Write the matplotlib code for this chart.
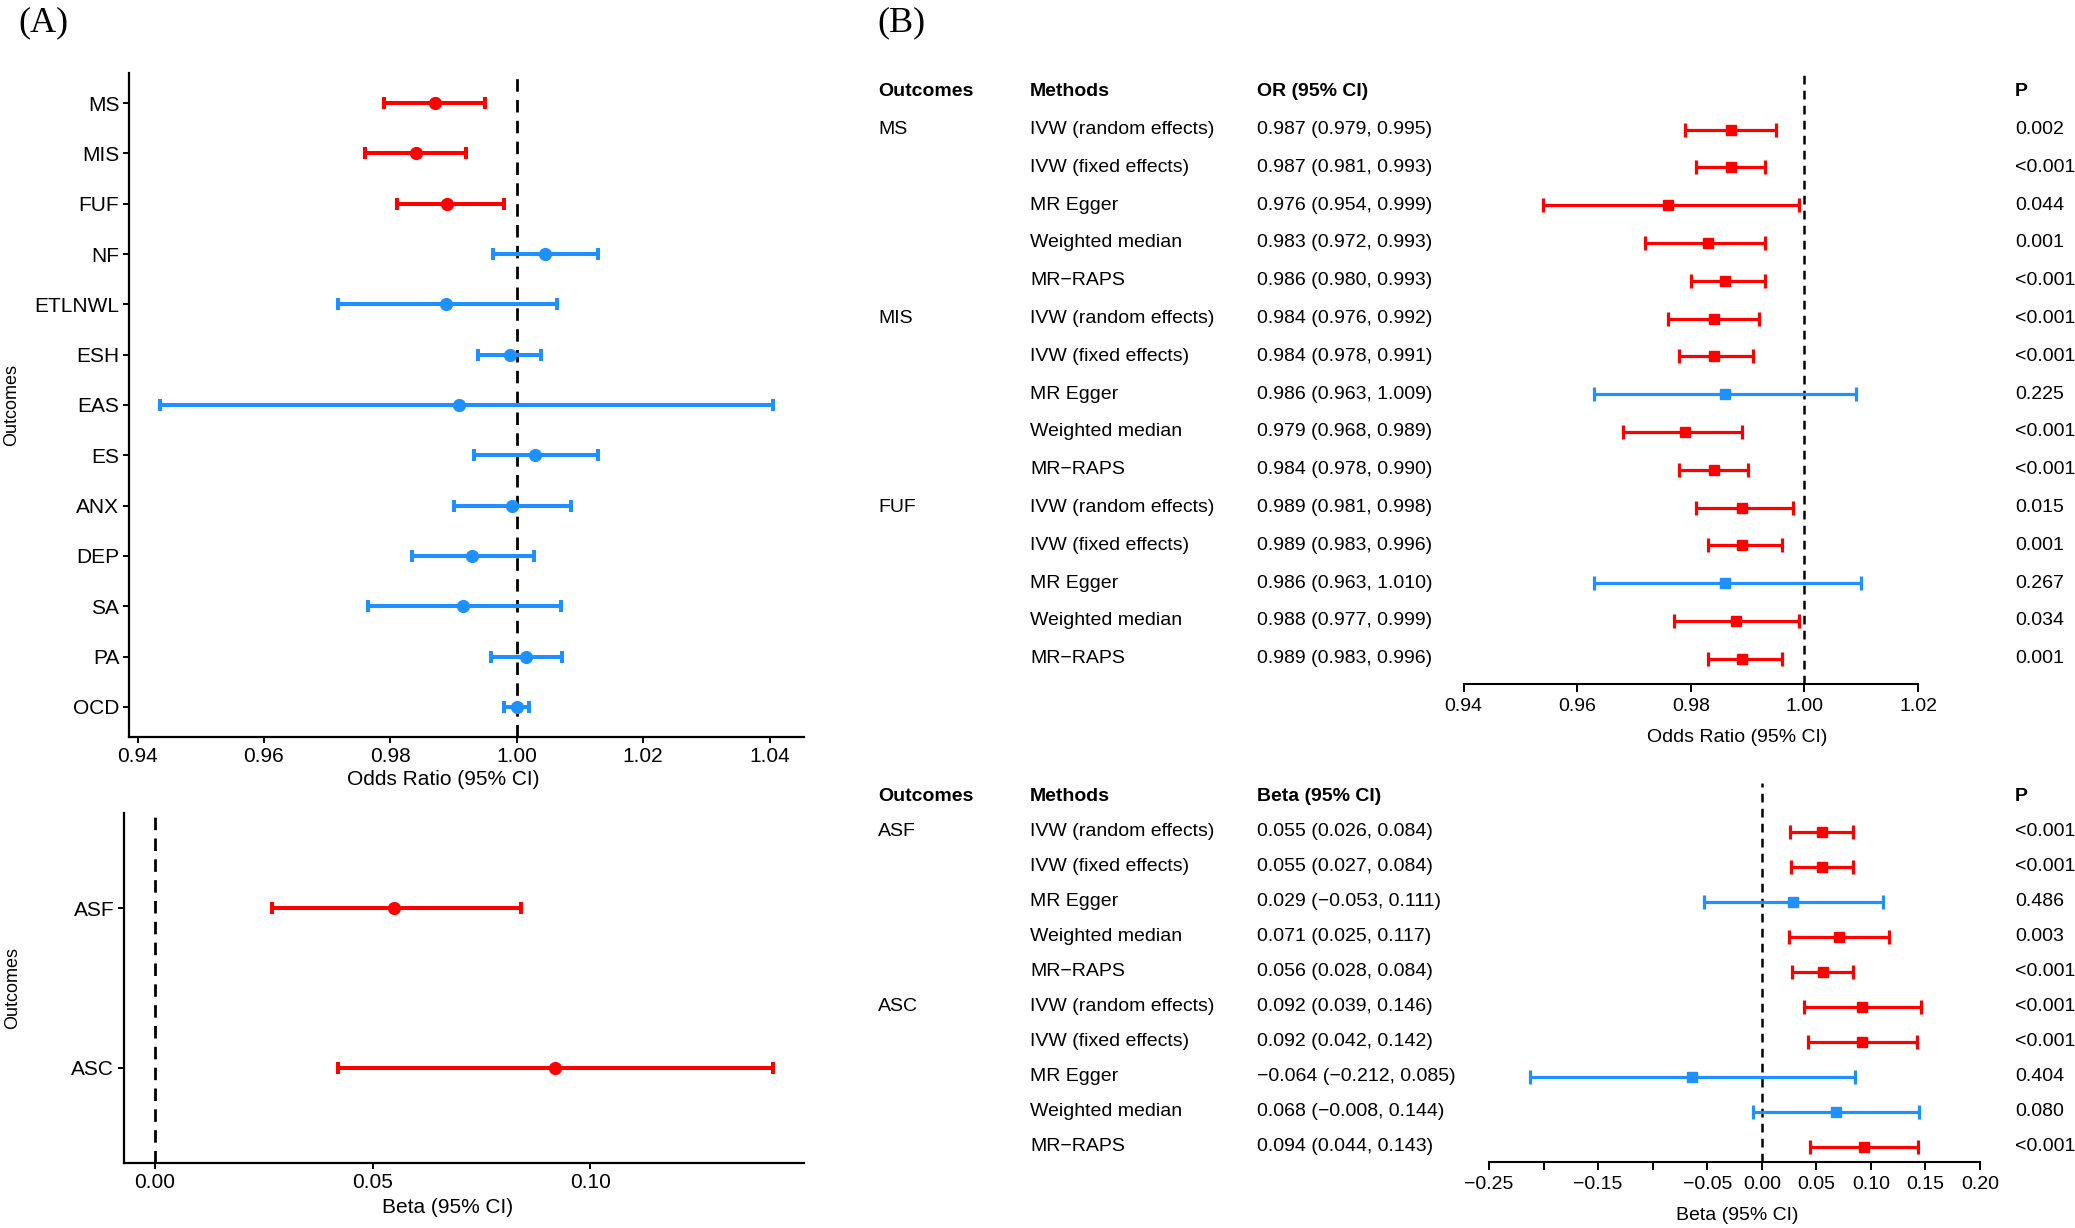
import matplotlib
matplotlib.use('Agg')
import matplotlib.pyplot as plt
from matplotlib.transforms import blended_transform_factory
import numpy as np

plt.rcParams['font.family'] = ['Liberation Sans', 'DejaVu Sans']

RED = '#FF0000'
BLUE = '#1E90FF'
MINUS = '\u2212'

# ---------------- panel A (top): odds ratios per outcome
a_outcomes = ['MS', 'MIS', 'FUF', 'NF', 'ETLNWL', 'ESH', 'EAS', 'ES', 'ANX', 'DEP', 'SA', 'PA', 'OCD']
a_or = [0.987, 0.984, 0.989, 1.0044, 0.9888, 0.9989, 0.9909, 1.0029, 0.9992, 0.9929, 0.9915, 1.0015, 1.0000]
a_lo = [0.979, 0.976, 0.981, 0.9962, 0.9717, 0.9938, 0.9435, 0.9932, 0.9900, 0.9835, 0.9764, 0.9959, 0.9980]
a_hi = [0.995, 0.992, 0.998, 1.0129, 1.0064, 1.0039, 1.0406, 1.0129, 1.0086, 1.0027, 1.0070, 1.0071, 1.0019]
a_ticks = [0.94, 0.96, 0.98, 1.00, 1.02, 1.04]

# ---------------- panel A (bottom): beta per outcome
a2_outcomes = ['ASF', 'ASC']
a2_beta = [0.055, 0.092]
a2_lo = [0.027, 0.042]
a2_hi = [0.084, 0.142]
a2_ticks = [0.00, 0.05, 0.10]

# ---------------- panel B tables
methods = ['IVW (random effects)', 'IVW (fixed effects)', 'MR Egger', 'Weighted median', 'MR' + MINUS + 'RAPS']

b1_outcomes = ['MS', 'MIS', 'FUF']
b1_est = [0.987, 0.987, 0.976, 0.983, 0.986,
          0.984, 0.984, 0.986, 0.979, 0.984,
          0.989, 0.989, 0.986, 0.988, 0.989]
b1_lo = [0.979, 0.981, 0.954, 0.972, 0.980,
         0.976, 0.978, 0.963, 0.968, 0.978,
         0.981, 0.983, 0.963, 0.977, 0.983]
b1_hi = [0.995, 0.993, 0.999, 0.993, 0.993,
         0.992, 0.991, 1.009, 0.989, 0.990,
         0.998, 0.996, 1.010, 0.999, 0.996]
b1_p = ['0.002', '<0.001', '0.044', '0.001', '<0.001',
        '<0.001', '<0.001', '0.225', '<0.001', '<0.001',
        '0.015', '0.001', '0.267', '0.034', '0.001']
b1_ticks = [0.94, 0.96, 0.98, 1.00, 1.02]

b2_outcomes = ['ASF', 'ASC']
b2_est = [0.055, 0.055, 0.029, 0.071, 0.056,
          0.092, 0.092, -0.064, 0.068, 0.094]
b2_lo = [0.026, 0.027, -0.053, 0.025, 0.028,
         0.039, 0.042, -0.212, -0.008, 0.044]
b2_hi = [0.084, 0.084, 0.111, 0.117, 0.084,
         0.146, 0.142, 0.085, 0.144, 0.143]
b2_p = ['<0.001', '<0.001', '0.486', '0.003', '<0.001',
        '<0.001', '<0.001', '0.404', '0.080', '<0.001']
b2_ticks = [-0.25, -0.20, -0.15, -0.10, -0.05, 0.00, 0.05, 0.10, 0.15, 0.20]
b2_ticklabels = ['-0.25', '', '-0.15', '', '-0.05', '0.00', '0.05', '0.10', '0.15', '0.20']

W, H = 2075, 1228
fig = plt.figure(figsize=(W / 100, H / 100), dpi=100)


def box(x0, y0, x1, y1):
    return [x0 / W, 1 - y1 / H, (x1 - x0) / W, (y1 - y0) / H]


def fmt(v):
    return f'{v:.3f}'.replace('-', MINUS)


def left_panel(rect, labels, est, lo, hi, null, ticks, xlabel, xlab_x, xlab_y):
    ax = fig.add_axes(rect)
    n = len(labels)
    for i in range(n):
        col = RED if (hi[i] < null or lo[i] > null) else BLUE
        ax.errorbar(est[i], i, xerr=[[est[i] - lo[i]], [hi[i] - est[i]]], fmt='o',
                    color=col, ms=8.5, elinewidth=2.9, capsize=4.2, capthick=2.9, zorder=3)
    ax.axvline(null, color='black', ls=(0, (4.5, 3)), lw=2.0, zorder=2)
    rmin = min(min(lo), null)
    rmax = max(max(hi), null)
    pad = 0.05 * (rmax - rmin)
    ax.set_xlim(rmin - pad, rmax + pad)
    ax.set_ylim(n - 1 + 0.6, -0.6)
    ax.set_yticks(range(n))
    ax.set_yticklabels(labels)
    ax.set_xticks(ticks)
    ax.set_xticklabels([f'{t:.2f}' for t in ticks])
    for s in ['top', 'right']:
        ax.spines[s].set_visible(False)
    for s in ['left', 'bottom']:
        ax.spines[s].set_linewidth(1.6)
    ax.tick_params(axis='both', labelsize=15, length=4, width=1.4, pad=3, colors='black')
    ax.set_xlabel(xlabel, fontsize=15)
    ax.xaxis.set_label_coords(xlab_x, xlab_y)
    ax.set_ylabel('Outcomes', fontsize=13)
    return ax


ax1 = left_panel(box(129, 73, 804, 737), a_outcomes, a_or, a_lo, a_hi, 1.0, a_ticks,
                 'Odds Ratio (95% CI)', 0.465, -0.05)
ax1.yaxis.set_label_coords(-0.161, 0.5)
ax2 = left_panel(box(124, 813, 804, 1163), a2_outcomes, a2_beta, a2_lo, a2_hi, 0.0, a2_ticks,
                 'Beta (95% CI)', 0.476, -0.10)
ax2.yaxis.set_label_coords(-0.152, 0.5)


def forest_table(x0, x1, top, bottom, header_y, row_h, est_head, outcomes, est, lo, hi, pvals,
                 null, ticks, ticklabels, xlabel, xlab_y):
    ax = fig.add_axes(box(x0, top, x1, bottom))
    n = len(est)
    ax.set_ylim((bottom - header_y) / row_h, (top - header_y) / row_h)
    ax.set_xlim(ticks[0], ticks[-1])
    tr = blended_transform_factory(fig.transFigure, ax.transData)
    cols = [878 / W, 1030 / W, 1257 / W, 2015 / W]
    heads = ['Outcomes', 'Methods', est_head, 'P']
    for cx, h in zip(cols, heads):
        ax.text(cx, 0, h, transform=tr, fontsize=14, fontweight='bold', ha='left', va='center')
    nm = len(methods)
    for i in range(n):
        y = i + 1
        if i % nm == 0:
            ax.text(cols[0], y, outcomes[i // nm], transform=tr, fontsize=14, ha='left', va='center')
        ax.text(cols[1], y, methods[i % nm], transform=tr, fontsize=14, ha='left', va='center')
        ax.text(cols[2], y, f'{fmt(est[i])} ({fmt(lo[i])}, {fmt(hi[i])})', transform=tr,
                fontsize=14, ha='left', va='center')
        ax.text(cols[3], y, pvals[i], transform=tr, fontsize=14, ha='left', va='center')
        sig = pvals[i].startswith('<') or float(pvals[i]) < 0.05
        col = RED if sig else BLUE
        ax.errorbar(est[i], y, xerr=[[est[i] - lo[i]], [hi[i] - est[i]]], fmt='s',
                    color=col, ms=6.5, elinewidth=2.3, capsize=5, capthick=2.3, zorder=3,
                    clip_on=False)
    ax.axvline(null, color='black', ls=(0, (3.5, 2.5)), lw=1.8, zorder=2)
    for s in ['top', 'right', 'left']:
        ax.spines[s].set_visible(False)
    ax.spines['bottom'].set_linewidth(1.5)
    ax.patch.set_alpha(0)
    ax.set_yticks([])
    ax.set_xticks(ticks)
    ax.set_xticklabels([t.replace('-', MINUS) for t in ticklabels])
    ax.tick_params(axis='x', labelsize=14, length=6, width=1.4, pad=4, colors='black')
    fig.text(1737 / W, 1 - xlab_y / H, xlabel, fontsize=14, ha='center', va='center')
    return ax


forest_table(1463.6, 1918, 70, 684, 91.7, 37.8, 'OR (95% CI)', b1_outcomes, b1_est, b1_lo, b1_hi,
             b1_p, 1.0, b1_ticks, [f'{t:.2f}' for t in b1_ticks], 'Odds Ratio (95% CI)', 737)
forest_table(1489, 1980, 783, 1162, 796.7, 35.0, 'Beta (95% CI)', b2_outcomes, b2_est, b2_lo, b2_hi,
             b2_p, 0.0, b2_ticks, b2_ticklabels, 'Beta (95% CI)', 1215)

fig.text(18 / W, 1 - 23 / H, '(A)', fontsize=26, family='Liberation Serif', ha='left', va='center')
fig.text(877 / W, 1 - 23 / H, '(B)', fontsize=26, family='Liberation Serif', ha='left', va='center')

fig.savefig('out.png', dpi=100)
